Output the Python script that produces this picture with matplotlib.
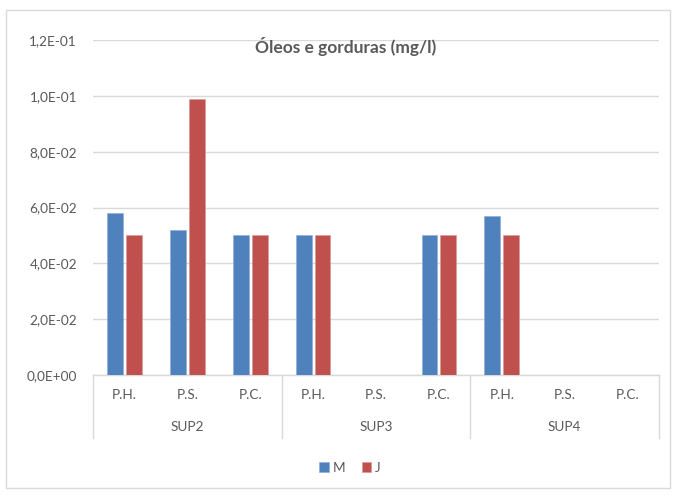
import numpy as np
import matplotlib
matplotlib.use("Agg")
import matplotlib.pyplot as plt
from matplotlib.patches import Rectangle
from matplotlib.lines import Line2D
from matplotlib.ticker import FuncFormatter

plt.rcParams['font.family'] = ['Lato', 'DejaVu Sans']

groups = ["SUP2", "SUP3", "SUP4"]
points = ["P.H.", "P.S.", "P.C."]
serie_m = [0.058, 0.052, 0.050, 0.050, np.nan, 0.050, 0.057, np.nan, np.nan]
serie_j = [0.050, 0.099, 0.050, 0.050, np.nan, 0.050, 0.050, np.nan, np.nan]
y_ticks = [0.0, 0.02, 0.04, 0.06, 0.08, 0.10, 0.12]

W, H = 677, 497
fig = plt.figure(figsize=(W / 100, H / 100), dpi=100)
fig.patch.set_facecolor("white")

# outer chart frame
fig.patches.append(Rectangle((6 / W, 1 - 488 / H), 664 / W, 478 / H,
                             transform=fig.transFigure, fill=False,
                             edgecolor="#D9D9D9", linewidth=1.0))

ax = fig.add_axes([93 / W, 1 - 375 / H, 566 / W, 335 / H])
n = len(serie_m)
x = np.arange(n)
blue, red = "#4F81BD", "#C0504D"
bw = 0.25
ax.bar(x - 0.15, serie_m, width=bw, color=blue, edgecolor="#8EAADB", linewidth=0.4, label="M", zorder=3)
ax.bar(x + 0.15, serie_j, width=bw, color=red, edgecolor="#D99694", linewidth=0.4, label="J", zorder=3)

ax.set_xlim(-0.5, n - 0.5)
ax.set_ylim(0, 0.12)
ax.set_yticks(y_ticks)
ax.yaxis.set_major_formatter(FuncFormatter(lambda v, p: ("%.1E" % v).replace(".", ",")))
ax.tick_params(axis="y", length=0, pad=11.5, labelsize=9.8, labelcolor="#595959")
ax.set_xticks([])
ax.grid(axis="y", color="#D9D9D9", linewidth=1.0, zorder=0)
for s in ["top", "right", "left"]:
    ax.spines[s].set_visible(False)
ax.spines["bottom"].set_color("#D9D9D9")
ax.spines["bottom"].set_linewidth(1.0)

# two-level category labels
for i in range(n):
    ax.annotate(points[i % 3], xy=(i, 0), xycoords=("data", "axes fraction"),
                xytext=(0, -14.4), textcoords="offset points", ha="center", va="center",
                fontsize=9.8, color="#595959")
for g, name in enumerate(groups):
    ax.annotate(name, xy=(g * 3 + 1, 0), xycoords=("data", "axes fraction"),
                xytext=(0, -37.4), textcoords="offset points", ha="center", va="center",
                fontsize=9.8, color="#595959")
for b in range(len(groups) + 1):
    xb = b * 3 - 0.5
    ax.add_line(Line2D([xb, xb], [0, -63 / 335], transform=ax.get_xaxis_transform(),
                       color="#D9D9D9", linewidth=1.0, clip_on=False))

ax.text(0.447, 0.98, "Óleos e gorduras (mg/l)", transform=ax.transAxes,
        ha="center", va="center", fontsize=12.5, fontweight="bold", color="#595959", zorder=5)

fig.legend(loc="center", bbox_to_anchor=(350 / W, 1 - 468 / H), ncol=2, frameon=False,
           fontsize=9.8, handlelength=0.7, handleheight=0.7, handletextpad=0.3,
           columnspacing=1.2, labelcolor="#595959")

fig.savefig("out.png", dpi=100, facecolor="white")
